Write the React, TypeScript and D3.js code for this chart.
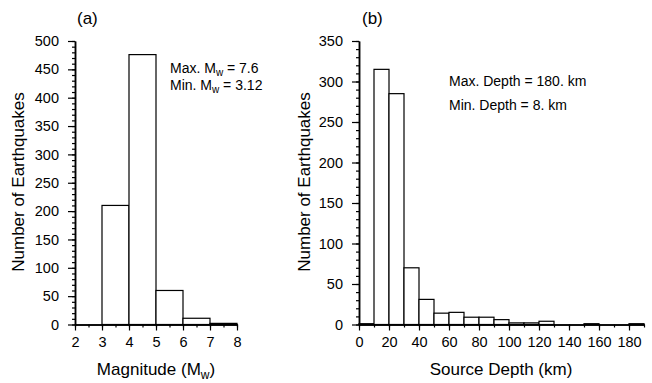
import React, { useEffect, useRef } from "react";
import * as d3 from "d3";

// magnitude histogram (bin edges 2..8, width 1)
const magBins = [2, 3, 4, 5, 6, 7];
const magCounts = [0, 210, 476, 60, 11, 2];
const magTicks = [2, 3, 4, 5, 6, 7, 8];

// depth histogram (bin edges 0..190, width 10)
const depthBins = [0, 10, 20, 30, 40, 50, 60, 70, 80, 90, 100, 110, 120, 130, 140, 150, 160, 170, 180];
const depthCounts = [1, 315, 285, 70, 31, 14, 15, 9, 9, 6, 2, 2, 4, 0, 0, 1, 0, 0, 1];
const depthTicks = [0, 20, 40, 60, 80, 100, 120, 140, 160, 180];

const countTicksA = [0, 50, 100, 150, 200, 250, 300, 350, 400, 450, 500];
const countTicksB = [0, 50, 100, 150, 200, 250, 300, 350];

const FONT = "'Liberation Sans', Arial, Helvetica, sans-serif";

const App = () => {
  const ref = useRef(null);

  useEffect(() => {
    const svg = d3.select(ref.current);
    svg.selectAll("*").remove();

    const yBottom = 324.5;
    const yTop = 41;

    const drawPanel = (opts) => {
      const { x, y, bins, counts, binW, xMajor, xMinor, yMajor, yMinor } = opts;
      const g = svg.append("g");

      // bars
      g.append("g")
        .selectAll("rect")
        .data(bins.map((b, i) => ({ b, c: counts[i] })))
        .join("rect")
        .attr("x", (d) => x(d.b))
        .attr("y", (d) => y(d.c))
        .attr("width", (d) => x(d.b + binW) - x(d.b))
        .attr("height", (d) => y(0) - y(d.c))
        .attr("fill", "#fff")
        .attr("stroke", "#000")
        .attr("stroke-width", 1.2);

      // y axis minor + major
      const x0 = x.range()[0];
      g.append("g")
        .attr("transform", `translate(${x0},0)`)
        .call(d3.axisLeft(y).tickValues(yMinor).tickSize(3).tickSizeOuter(0).tickFormat(() => ""));
      g.append("g")
        .attr("transform", `translate(${x0},0)`)
        .call(d3.axisLeft(y).tickValues(yMajor).tickSize(7).tickSizeOuter(0).tickPadding(9).tickFormat(d3.format("d")))
        .call((a) => a.selectAll("text").attr("font-size", 14.5).attr("font-family", FONT).attr("fill", "#000"));

      // x axis minor + major
      g.append("g")
        .attr("transform", `translate(0,${y(0)})`)
        .call(d3.axisBottom(x).tickValues(xMinor).tickSize(3).tickSizeOuter(0).tickFormat(() => ""));
      g.append("g")
        .attr("transform", `translate(0,${y(0)})`)
        .call(d3.axisBottom(x).tickValues(xMajor).tickSize(6).tickSizeOuter(0).tickPadding(6).tickFormat(d3.format("d")))
        .call((a) => a.selectAll("text").attr("font-size", 14.5).attr("font-family", FONT).attr("fill", "#000"));

      g.selectAll(".domain").attr("stroke-width", 1.5);
      g.selectAll(".tick line").attr("stroke-width", 1.2);
      return g;
    };

    // panel (a)
    const xa = d3.scaleLinear().domain([2, 8]).range([75, 237]);
    const ya = d3.scaleLinear().domain([0, 500]).range([yBottom, yTop]);
    const ga = drawPanel({
      x: xa,
      y: ya,
      bins: magBins,
      counts: magCounts,
      binW: 1,
      xMajor: magTicks,
      xMinor: d3.range(2, 8.01, 0.5),
      yMajor: countTicksA,
      yMinor: d3.range(0, 501, 10),
    });

    // panel (b)
    const xb = d3.scaleLinear().domain([0, 190]).range([359, 644]);
    const yb = d3.scaleLinear().domain([0, 350]).range([yBottom, yTop]);
    const gb = drawPanel({
      x: xb,
      y: yb,
      bins: depthBins,
      counts: depthCounts,
      binW: 10,
      xMajor: depthTicks,
      xMinor: d3.range(0, 191, 10),
      yMajor: countTicksB,
      yMinor: d3.range(0, 351, 10),
    });

    const txt = (g, x, y, s, size = 17) =>
      g.append("text").attr("x", x).attr("y", y).attr("font-family", FONT).attr("font-size", size).text(s);

    // panel labels
    txt(ga, 77, 24, "(a)");
    txt(gb, 362, 24, "(b)");

    // y titles
    ga.append("text")
      .attr("transform", "translate(24,182) rotate(-90)")
      .attr("text-anchor", "middle")
      .attr("font-family", FONT)
      .attr("font-size", 17)
      .text("Number of Earthquakes");
    gb.append("text")
      .attr("transform", "translate(310,182) rotate(-90)")
      .attr("text-anchor", "middle")
      .attr("font-family", FONT)
      .attr("font-size", 17)
      .text("Number of Earthquakes");

    // x titles
    const tA = ga.append("text")
      .attr("x", 156)
      .attr("y", 375)
      .attr("text-anchor", "middle")
      .attr("font-family", FONT)
      .attr("font-size", 17);
    tA.append("tspan").text("Magnitude (M");
    tA.append("tspan").attr("font-size", 12).attr("dy", 4).text("w");
    tA.append("tspan").attr("dy", -4).text(")");

    gb.append("text")
      .attr("x", 501)
      .attr("y", 375)
      .attr("text-anchor", "middle")
      .attr("font-family", FONT)
      .attr("font-size", 17)
      .text("Source Depth (km)");

    // annotations
    const mw = (y, label, val) => {
      const t = ga.append("text").attr("x", 170).attr("y", y).attr("font-family", FONT).attr("font-size", 14);
      t.append("tspan").text(`${label} M`);
      t.append("tspan").attr("font-size", 10).attr("dy", 3).text("w");
      t.append("tspan").attr("dy", -3).text(` = ${val}`);
    };
    mw(73, "Max.", "7.6");
    mw(90, "Min.", "3.12");

    txt(gb, 449, 86, "Max. Depth = 180. km", 14);
    txt(gb, 449, 110, "Min. Depth = 8. km", 14);
  }, []);

  return (
    <svg
      ref={ref}
      width={652}
      height={383}
      style={{ position: "absolute", left: 0, top: 0, background: "#fff" }}
    ></svg>
  );
};

export default App;
